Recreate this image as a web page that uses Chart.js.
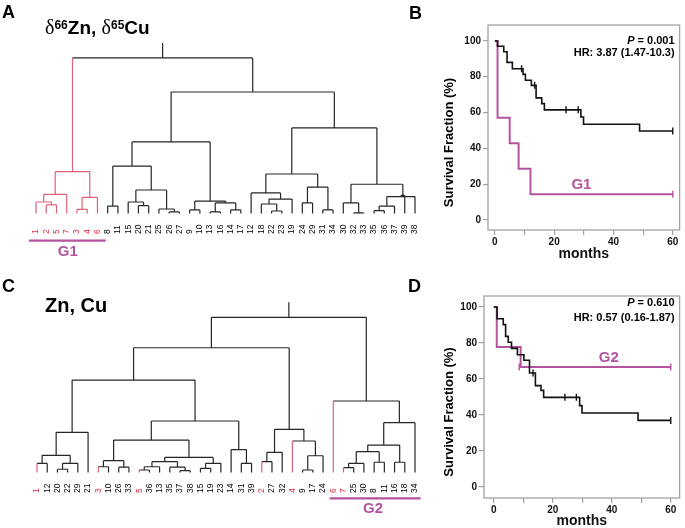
<!DOCTYPE html>
<html lang="en">
<head>
<meta charset="UTF-8">
<title>Clustering and survival</title>
<script src="https://cdn.jsdelivr.net/npm/chart.js"></script>
<style>
  html, body { margin: 0; padding: 0; background: #fff; }
  body { width: 685px; height: 528px; position: relative; overflow: hidden; }
  canvas { position: absolute; }
  #dendroA { left: 0; top: 0; }
  #survB { left: 430px; top: 0; }
  #dendroC { left: 0; top: 270px; }
  #survD { left: 430px; top: 270px; }
</style>
</head>
<body>
<canvas id="dendroA" width="430" height="270"></canvas>
<canvas id="survB" width="255" height="268"></canvas>
<canvas id="dendroC" width="430" height="258"></canvas>
<canvas id="survD" width="255" height="258"></canvas>
<script>
// ---- dendrogram A (d66Zn, d65Cu) ----
const leavesA = [1, 2, 5, 7, 3, 4, 6, 8, 11, 15, 20, 21, 25, 26, 27, 9, 10, 13, 16, 14, 17,
                 12, 18, 22, 23, 19, 24, 29, 31, 34, 30, 32, 33, 35, 36, 37, 39, 38];
// [child, child, height]; negative = patient, positive = earlier merge (1-based)
const mergesA = [
  [-2, -5, 0.55], [-1, 1, 0.74], [2, -7, 1.23], [-3, -4, 0.27], [4, -6, 1.04], [3, 5, 2.69],
  [-8, -11, 0.48], [-20, -21, 0.50], [-15, 8, 0.74], [-26, -27, 0.10], [-25, 10, 0.29],
  [9, 11, 1.51], [7, 12, 3.05], [-9, -10, 0.23], [-13, -16, 0.10], [-14, -17, 0.23],
  [15, 16, 0.68], [14, 17, 0.80], [13, 18, 4.60], [-22, -23, 0.16], [-18, 20, 0.61],
  [21, -19, 0.93], [-12, 22, 1.32], [-24, -29, 0.68], [-31, -34, 0.23], [24, 25, 1.70],
  [23, 26, 2.54], [-32, -33, 0.04], [-30, 28, 0.68], [-35, -36, 0.18], [30, -37, 0.48],
  [31, -38, 1.09], [32, -39, 1.16], [29, 33, 1.88], [27, 34, 5.50], [19, 35, 7.81], [6, 36, 10.0]
];
const redLeavesA = [1, 2, 3, 4, 5, 6, 7];
const redMergesA = [1, 2, 3, 4, 5, 6];

// ---- dendrogram C (Zn, Cu) ----
const leavesC = [1, 12, 20, 22, 29, 21, 3, 10, 26, 33, 5, 36, 13, 35, 37, 38, 15, 19, 23,
                 14, 31, 39, 2, 27, 32, 4, 9, 17, 24, 6, 7, 25, 30, 8, 11, 16, 18, 34];
const mergesC = [
  [-1, -12, 0.59], [-20, -22, 0.21], [2, -29, 0.59], [1, 3, 1.11], [4, -21, 2.59],
  [-3, -10, 0.37], [-26, -33, 0.34], [6, 7, 0.76], [-5, -36, 0.16], [9, -13, 0.37],
  [-37, -38, 0.12], [-35, 11, 0.34], [10, 12, 0.70], [-15, -19, 0.27], [14, -23, 0.59],
  [13, 15, 0.97], [8, 16, 2.09], [-31, -39, 0.59], [-14, 18, 1.48], [17, 19, 3.32],
  [5, 20, 5.96], [-2, -27, 0.70], [22, -32, 1.30], [-9, -17, 0.16], [24, -24, 1.08],
  [-4, 25, 2.03], [23, 26, 2.78], [21, 27, 8.04], [-7, -25, 0.31], [29, -30, 0.59],
  [-8, -11, 0.66], [30, 31, 1.34], [-16, -18, 0.66], [32, 33, 1.77], [34, -34, 3.21],
  [-6, 35, 4.61], [28, 36, 10.0]
];
const redLeavesC = [1, 2, 3, 4, 5, 6, 7];
const redMergesC = [];

// ---- survival B ----
const monthsB = [0, 0.9, 3.0, 4.1, 5.9, 9.5, 10.3, 12.3, 13.9, 15.8, 16.7, 29.0, 29.9, 48.8, 60];
const survB = [100, 97, 94, 88, 84.5, 81.3, 78, 75.2, 68.2, 65, 61.5, 57.5, 53.5, 49.7, 49.7];
const censorMonthsB = [9, 13.4, 24, 28.1, 60];
const censorSurvB = [84.5, 75.2, 61.5, 61.5, 49.7];
const monthsG1 = [0, 0.9, 5, 8, 12, 60];
const survG1 = [100, 57.1, 42.9, 28.6, 14.3, 14.3];
const censorMonthsG1 = [60];
const censorSurvG1 = [14.3];

// ---- survival D ----
const monthsD = [0, 1.1, 3.2, 4.0, 4.9, 6.0, 8.0, 10.2, 12.1, 14.1, 16.0, 16.9, 29.1, 29.9, 48.9, 60];
const survD = [100, 93.5, 90.2, 83.7, 80.4, 77, 73.5, 70.4, 63.3, 56.3, 53.7, 49.8, 45.2, 41.1, 37, 37];
const censorMonthsD = [13.3, 24.1, 28, 60];
const censorSurvD = [63.3, 49.8, 49.8, 37];
const monthsG2 = [0, 1, 9.1, 60];
const survG2 = [100, 77.8, 66.7, 66.7];
const censorMonthsG2 = [8.6, 60];
const censorSurvG2 = [66.7, 66.7];

const SANS = '"Liberation Sans", Arial, Helvetica, sans-serif';
const SERIF = '"Liberation Serif", "DejaVu Serif", serif';
const RED_LINE = '#e0607a';
const RED_TEXT = '#e3293f';
const MAGENTA = '#b5539f';
const FRAME = '#a3a3a3';
const INK = '#262626';

function buildTree(leaves, merges, redLeaves, redMerges, stemTop) {
  const pos = {};
  leaves.forEach((id, i) => { pos[id] = i; });
  const nodes = [];
  const ref = c => c < 0 ? { x: pos[-c], h: 0, red: redLeaves.includes(-c) } : nodes[c - 1];
  const black = [], red = [];
  merges.forEach(([a, b, h], k) => {
    const A = ref(a), B = ref(b);
    const isRed = redMerges.includes(k + 1);
    (A.red ? red : black).push({ x: A.x, y: A.h }, { x: A.x, y: h }, { x: A.x, y: null });
    (B.red ? red : black).push({ x: B.x, y: B.h }, { x: B.x, y: h }, { x: B.x, y: null });
    (isRed ? red : black).push({ x: A.x, y: h }, { x: B.x, y: h }, { x: B.x, y: null });
    nodes.push({ x: (A.x + B.x) / 2, h: h, red: isRed });
  });
  const root = nodes[nodes.length - 1];
  black.push({ x: root.x, y: root.h }, { x: root.x, y: stemTop });
  return { black, red };
}

function drawRuns(ctx, x, y, runs) {
  runs.forEach(r => {
    ctx.font = r.font;
    ctx.fillText(r.text, x, y - (r.rise || 0));
    x += ctx.measureText(r.text).width;
  });
}

const dendroDecor = {
  id: 'dendroDecor',
  afterDraw(chart, args, o) {
    const ctx = chart.ctx, xs = chart.scales.x, area = chart.chartArea;
    ctx.save();
    ctx.fillStyle = '#000';
    ctx.textBaseline = 'alphabetic';
    ctx.textAlign = 'left';
    o.letters.forEach(l => { ctx.font = 'bold 18px ' + SANS; ctx.fillText(l.text, l.x, l.y); });
    drawRuns(ctx, o.titleX, o.titleY, o.title);
    // leaf labels
    ctx.font = '8.5px ' + SANS;
    ctx.textBaseline = 'middle';
    o.leaves.forEach((id, i) => {
      ctx.save();
      ctx.translate(xs.getPixelForValue(i), area.bottom + 20.5);
      ctx.rotate(-Math.PI / 2);
      ctx.fillStyle = o.redLeaves.includes(id) ? RED_TEXT : '#000';
      ctx.fillText(String(id), 0, 0);
      ctx.restore();
    });
    // group bar
    const g = o.group;
    const y = area.bottom + g.barGap;
    ctx.strokeStyle = MAGENTA;
    ctx.lineWidth = 2.2;
    ctx.beginPath();
    ctx.moveTo(xs.getPixelForValue(g.from), y);
    ctx.lineTo(xs.getPixelForValue(g.to), y);
    ctx.stroke();
    ctx.fillStyle = MAGENTA;
    ctx.font = 'bold 15px ' + SANS;
    ctx.textAlign = 'center';
    ctx.fillText(g.label, xs.getPixelForValue(g.at), area.bottom + g.textGap);
    ctx.restore();
  }
};

function dendroChart(id, leaves, merges, redLeaves, redMerges, box, decor) {
  const tree = buildTree(leaves, merges, redLeaves, redMerges, box.yMax);
  const line = (data, color) => ({
    data: data, borderColor: color, borderWidth: 1.2, pointRadius: 0,
    spanGaps: false, clip: false, tension: 0
  });
  return new Chart(document.getElementById(id), {
    type: 'line',
    data: { datasets: [line(tree.red, RED_LINE), line(tree.black, INK)] },
    options: {
      responsive: false,
      animation: false,
      events: [],
      layout: { padding: box.padding },
      scales: {
        x: { type: 'linear', display: false, min: 0, max: leaves.length - 1 },
        y: { type: 'linear', display: false, min: 0, max: box.yMax }
      },
      plugins: { legend: { display: false }, tooltip: { enabled: false }, dendroDecor: decor }
    },
    plugins: [dendroDecor]
  });
}

const survDecor = {
  id: 'survDecor',
  beforeDatasetsDraw(chart) {
    const a = chart.chartArea, ctx = chart.ctx;
    ctx.save();
    ctx.strokeStyle = FRAME;
    ctx.lineWidth = 1.3;
    ctx.strokeRect(a.left, a.top, a.right - a.left, a.bottom - a.top);
    ctx.restore();
  },
  afterDraw(chart, args, o) {
    const a = chart.chartArea, ctx = chart.ctx;
    const xs = chart.scales.x, ys = chart.scales.y;
    ctx.save();
    ctx.fillStyle = '#000';
    ctx.textBaseline = 'middle';
    // P value, italic P
    ctx.textAlign = 'right';
    ctx.font = 'bold 11px ' + SANS;
    const rest = ' = ' + o.p;
    const rx = a.right - 5;
    ctx.fillText(rest, rx, a.top + o.pGap);
    const w = ctx.measureText(rest).width;
    ctx.font = 'italic bold 11px ' + SANS;
    ctx.fillText('P', rx - w, a.top + o.pGap);
    ctx.font = 'bold 11px ' + SANS;
    ctx.fillText(o.hr, rx, a.top + o.hrGap);
    // group label
    ctx.textAlign = 'center';
    ctx.fillStyle = MAGENTA;
    ctx.font = 'bold 15px ' + SANS;
    ctx.fillText(o.group, xs.getPixelForValue(o.groupAt[0]), ys.getPixelForValue(o.groupAt[1]));
    // y title
    ctx.fillStyle = '#000';
    ctx.font = 'bold 13px ' + SANS;
    ctx.translate(19, (a.top + a.bottom) / 2 + 15);
    ctx.rotate(-Math.PI / 2);
    ctx.fillText('Survival Fraction (%)', 0, 0);
    ctx.restore();
  }
};

const pts = (xs, ys) => xs.map((x, i) => ({ x: x, y: ys[i] }));

function survChart(id, s, box, decor) {
  const tickFont = { family: SANS, size: 10, weight: 'bold' };
  const grid = { display: true, drawOnChartArea: false, drawTicks: true, tickLength: 5, color: FRAME, lineWidth: 1.2 };
  const curve = (data, color, width) => ({
    data: data, stepped: 'before', borderColor: color, borderWidth: width,
    pointRadius: 0, fill: false
  });
  const marks = (data, color) => ({
    data: data, showLine: false, pointStyle: 'line', rotation: 90, pointRadius: 3.5,
    borderColor: color, backgroundColor: color, pointBorderWidth: 1.4
  });
  return new Chart(document.getElementById(id), {
    type: 'line',
    data: {
      datasets: [
        curve(pts(s.months, s.surv), '#111', 1.6),
        marks(pts(s.censorMonths, s.censorSurv), '#111'),
        curve(pts(s.gMonths, s.gSurv), MAGENTA, 2),
        marks(pts(s.gCensorMonths, s.gCensorSurv), MAGENTA)
      ]
    },
    options: {
      responsive: false,
      animation: false,
      events: [],
      layout: { padding: { left: 5, top: box.top, right: 2, bottom: 0 } },
      scales: {
        x: {
          type: 'linear', min: box.xMin, max: box.xMax,
          afterFit: sc => { sc.height = box.xHeight; },
          grid: grid, border: { display: false },
          ticks: {
            stepSize: 10, includeBounds: false, autoSkip: false, maxRotation: 0,
            padding: 1, color: '#111', font: tickFont,
            callback: v => (v % 20 === 0 ? v : '')
          },
          title: {
            display: true, text: 'months', color: '#111',
            font: { family: SANS, size: 14, weight: 'bold', lineHeight: 1 },
            padding: { top: 0, bottom: box.titlePad }
          }
        },
        y: {
          type: 'linear', min: box.yMin, max: box.yMax,
          afterFit: sc => { sc.width = box.yWidth; },
          grid: grid, border: { display: false },
          ticks: { stepSize: 20, includeBounds: false, padding: 2, color: '#111', font: tickFont }
        }
      },
      plugins: { legend: { display: false }, tooltip: { enabled: false }, survDecor: decor }
    },
    plugins: [survDecor]
  });
}

const supFont = 'bold 12px ' + SANS;
const bigFont = 'bold 19px ' + SANS;
const deltaFont = '20px ' + SERIF;

dendroChart('dendroA', leavesA, mergesA, redLeavesA, redMergesA,
  { yMax: 10.96, padding: { left: 36, right: 15, top: 43, bottom: 56.5 } },
  {
    letters: [{ text: 'A', x: 2, y: 18 }, { text: 'B', x: 409, y: 19 }],
    titleX: 45, titleY: 33.5,
    title: [
      { text: 'δ', font: deltaFont }, { text: '66', font: supFont, rise: 5 },
      { text: 'Zn, ', font: bigFont }, { text: 'δ', font: deltaFont },
      { text: '65', font: supFont, rise: 5 }, { text: 'Cu', font: bigFont }
    ],
    leaves: leavesA, redLeaves: redLeavesA,
    group: { label: 'G1', from: -0.7, to: 6.8, at: 3.1, barGap: 27.2, textGap: 38.5 }
  });

dendroChart('dendroC', leavesC, mergesC, redLeavesC, redMergesC,
  { yMax: 10.97, padding: { left: 37, right: 15, top: 32.3, bottom: 55.5 } },
  {
    letters: [{ text: 'C', x: 2, y: 21.7 }, { text: 'D', x: 408, y: 21.7 }],
    titleX: 45, titleY: 41.7,
    title: [{ text: 'Zn, Cu', font: 'bold 20px ' + SANS }],
    leaves: leavesC, redLeaves: redLeavesC,
    group: { label: 'G2', from: 28.65, to: 37.55, at: 32.9, barGap: 25.8, textGap: 36.5 }
  });

survChart('survB',
  { months: monthsB, surv: survB, censorMonths: censorMonthsB, censorSurv: censorSurvB,
    gMonths: monthsG1, gSurv: survG1, gCensorMonths: censorMonthsG1, gCensorSurv: censorSurvG1 },
  { top: 25, xMin: -2.32, xMax: 62.3, yMin: -5.6, yMax: 108.9, xHeight: 38, yWidth: 53, titlePad: 7 },
  { p: '0.001', hr: 'HR: 3.87 (1.47-10.3)', pGap: 15.7, hrGap: 28.3, group: 'G1', groupAt: [29.2, 19.6] });

survChart('survD',
  { months: monthsD, surv: survD, censorMonths: censorMonthsD, censorSurv: censorSurvD,
    gMonths: monthsG2, gSurv: survG2, gCensorMonths: censorMonthsG2, gCensorSurv: censorSurvG2 },
  { top: 26, xMin: -3.33, xMax: 63, yMin: -6.1, yMax: 106.1, xHeight: 30, yWidth: 49, titlePad: 0 },
  { p: '0.610', hr: 'HR: 0.57 (0.16-1.87)', pGap: 7.3, hrGap: 22.3, group: 'G2', groupAt: [39, 71.5] });
</script>
</body>
</html>
